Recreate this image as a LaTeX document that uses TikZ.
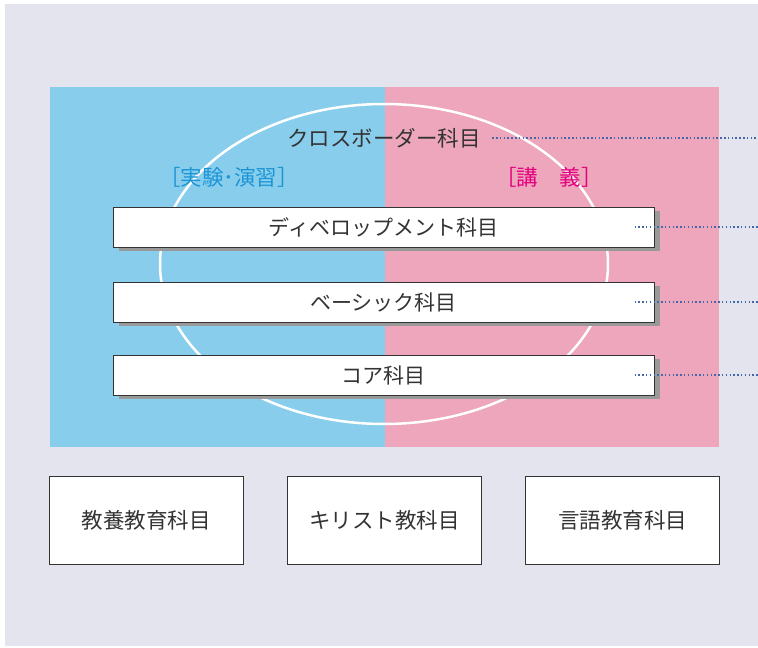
\documentclass[tikz,border=0pt]{standalone}
\usepackage{fontspec}
\setmainfont{Noto Sans CJK JP}
\usepackage{tikz}
\usetikzlibrary{shadows}

\definecolor{pagebg}{HTML}{E4E4EF}
\definecolor{skyblue}{HTML}{88CEEC}
\definecolor{rosepink}{HTML}{EDA6BB}
\definecolor{labblue}{HTML}{1B95D6}
\definecolor{lecpink}{HTML}{E4007F}
\definecolor{dotblue}{HTML}{4466AA}
\definecolor{inkgray}{HTML}{333333}
\definecolor{shadegray}{HTML}{999999}

\tikzset{
  subjbox/.style={draw=inkgray, line width=1pt, fill=white, text=inkgray,
    minimum width=541pt, minimum height=40pt, inner sep=0pt,
    font=\fontsize{21}{21}\selectfont,
    drop shadow={shadow xshift=6pt, shadow yshift=-4pt, fill=shadegray, opacity=1}},
  basebox/.style={draw=inkgray, line width=0.8pt, fill=white, text=inkgray,
    minimum width=194pt, minimum height=88pt, inner sep=0pt,
    font=\fontsize{21.5}{21.5}\selectfont},
  dotline/.style={dotblue, line width=1.5pt, dash pattern=on 1.5pt off 2.3pt}
}

\begin{document}
\begin{tikzpicture}[x=1pt, y=-1pt]
    \useasboundingbox (0,0) rectangle (758,648);
    \fill[pagebg] (5,4) rectangle (758,646);

    % two halves
    \fill[skyblue] (50,87) rectangle (385,447);
    \fill[rosepink] (385,87) rectangle (719,447);
    \draw[white, line width=2.5pt] (384,264) ellipse [x radius=224pt, y radius=160pt];

    \coordinate (rim) at (758,0);

    \node[text=inkgray, font=\fontsize{21.5}{21.5}\selectfont] (cross) at (384,138) {クロスボーダー科目};
    \node[text=labblue, font=\fontsize{21.5}{21.5}\selectfont] (lab) at (229,177) {［実験･演習］};
    \node[text=lecpink, font=\fontsize{21.5}{21.5}\selectfont] (lec) at (549,177) {［講　義］};

    \node[subjbox] (dev) at (383.5,227) {ディベロップメント科目};
    \node[subjbox] (basic) at (383.5,302) {ベーシック科目};
    \node[subjbox] (core) at (383.5,375) {コア科目};

    \draw[dotline] ([xshift=8pt]cross.east) -- (cross.east -| rim);
    \foreach \n in {dev, basic, core}
        \draw[dotline] ([xshift=-20pt]\n.east) -- (\n.east -| rim);

    % outside the frame
    \node[basebox] (liberal) at (146,520) {教養教育科目};
    \node[basebox] (christ) at (384.5,520) {キリスト教科目};
    \node[basebox] (lang) at (622.5,520) {言語教育科目};
\end{tikzpicture}
\end{document}
